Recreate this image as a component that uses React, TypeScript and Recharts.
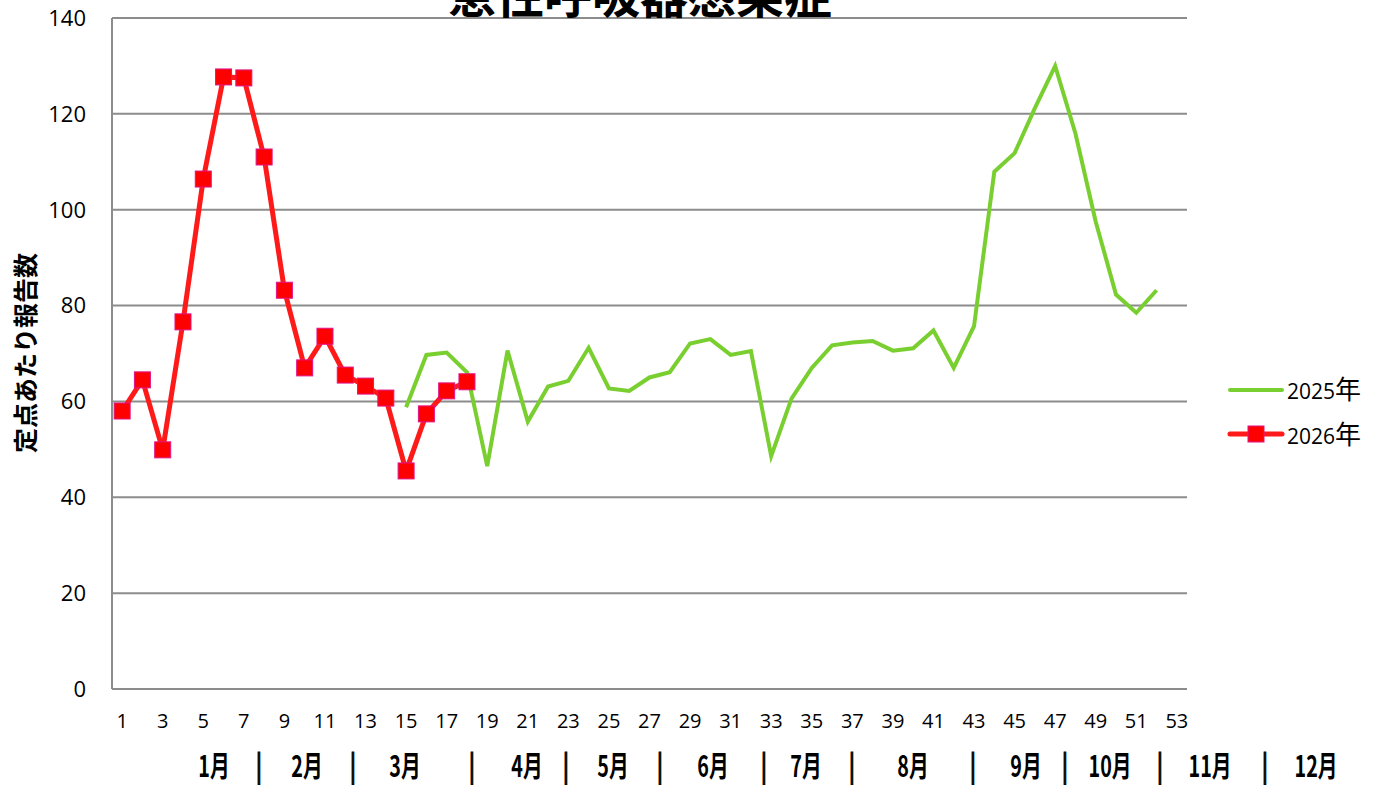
import React from "react";
import { LineChart, Line, XAxis, YAxis, CartesianGrid } from "recharts";

const weeks: number[] = Array.from({ length: 53 }, (_, i) => i + 1);

// 2025年: weeks 15..52
const weeks2025: number[] = [15,16,17,18,19,20,21,22,23,24,25,26,27,28,29,30,31,32,33,34,35,36,37,38,39,40,41,42,43,44,45,46,47,48,49,50,51,52];
const values2025: number[] = [58.8,69.7,70.2,66.1,46.5,70.6,55.8,63.1,64.3,71.2,62.7,62.2,65.0,66.1,72.1,73.0,69.7,70.5,48.6,60.6,67.0,71.7,72.3,72.6,70.6,71.1,74.8,67.0,75.7,107.9,111.8,121.2,130.0,115.9,97.5,82.3,78.5,83.2];

// 2026年: weeks 1..18
const weeks2026: number[] = [1,2,3,4,5,6,7,8,9,10,11,12,13,14,15,16,17,18];
const values2026: number[] = [58.0,64.5,49.9,76.6,106.4,127.7,127.5,111.0,83.2,67.0,73.6,65.5,63.2,60.7,45.5,57.4,62.2,64.1];

const yTicks: number[] = [0, 20, 40, 60, 80, 100, 120, 140];
const monthLabels: string[] = ["1月","|","2月","|","3月","|","4月","|","5月","|","6月","|","7月","|","8月","|","9月","|","10月","|","11月","|","12月"];
const monthLabelX: number[] = [214,259,307,353,405,472,527,566,613,660,713,764,806,852,913,973,1026,1065,1110,1160,1210,1265,1316];

const TITLE = "急性呼吸器感染症";
const Y_LABEL = "定点あたり報告数";
const SERIES_2025 = "2025";
const SERIES_2026 = "2026";
const YEAR_SUFFIX = "年";

const data = weeks.map((w) => {
  const i25 = weeks2025.indexOf(w);
  const i26 = weeks2026.indexOf(w);
  return {
    week: w,
    v2025: i25 >= 0 ? values2025[i25] : null,
    v2026: i26 >= 0 ? values2026[i26] : null,
  };
});

const GREEN = "#79cf2f";
const RED = "#ff1a1a";
const MARKER_STROKE = "#e0148a";
const GRID = "#8c8c8c";
const FONT = "'Open Sans', 'Noto Sans', sans-serif";
const CJK = "'Noto Sans CJK JP', sans-serif";

const SquareDot = (props: any) => {
  const { cx, cy } = props;
  if (cx == null || cy == null || props.value == null) return null;
  return <rect x={cx - 8} y={cy - 8} width={16} height={16} fill="#ff0000" stroke={MARKER_STROKE} strokeWidth={1} />;
};

export default function App() {
  return (
    <div style={{ position: "absolute", left: 0, top: 0, width: 1379, height: 785, background: "#fff", overflow: "hidden" }}>
      <LineChart
        width={1379}
        height={785}
        data={data}
        margin={{ top: 18, right: 192, bottom: 56, left: 12 }}
      >
        <CartesianGrid vertical={false} stroke={GRID} strokeWidth={2} />
        <XAxis
          dataKey="week"
          scale="band"
          interval={1}
          tickLine={false}
          tickSize={0}
          tickMargin={25}
          axisLine={{ stroke: GRID, strokeWidth: 2 }}
          tick={{ fontFamily: FONT, fontSize: 20, fill: "#000" }}
          height={40}
        />
        <YAxis
          domain={[0, 140]}
          ticks={yTicks}
          width={100}
          tickLine={false}
          tickSize={0}
          tickMargin={26}
          axisLine={{ stroke: GRID, strokeWidth: 2 }}
          tick={{ fontFamily: FONT, fontSize: 22, fill: "#000" }}
        />
        <Line
          type="linear"
          dataKey="v2025"
          name={SERIES_2025 + YEAR_SUFFIX}
          stroke={GREEN}
          strokeWidth={4}
          dot={false}
          activeDot={false}
          isAnimationActive={false}
        />
        <Line
          type="linear"
          dataKey="v2026"
          name={SERIES_2026 + YEAR_SUFFIX}
          stroke={RED}
          strokeWidth={5}
          dot={<SquareDot />}
          activeDot={false}
          isAnimationActive={false}
        />
      </LineChart>
      <svg width={1379} height={785} style={{ position: "absolute", left: 0, top: 0, pointerEvents: "none" }}>
        <text x={640} y={13} textAnchor="middle" fontFamily={CJK} fontWeight={700} fontSize={48} fill="#000">{TITLE}</text>
        <text
          transform="translate(34.5,353) rotate(-90)"
          textAnchor="middle"
          fontFamily={CJK}
          fontWeight={700}
          fontSize={25}
          fill="#000"
        >{Y_LABEL}</text>
        {monthLabels.map((m, i) => (
          <text
            key={i}
            transform={`translate(${monthLabelX[i]},777) scale(0.68,1)`}
            textAnchor="middle"
            fontFamily={CJK}
            fontWeight={700}
            fontSize={29}
            fill="#000"
            stroke={m === "|" ? "#000" : "none"}
            strokeWidth={m === "|" ? 1 : 0}
          >{m}</text>
        ))}
        {/* legend */}
        <g>
          <line x1={1230} y1={390} x2={1282} y2={390} stroke={GREEN} strokeWidth={4} strokeLinecap="round" />
          <text x={1287} y={399} fontFamily={FONT} fontSize={21} fill="#000">
            {SERIES_2025}<tspan fontFamily={CJK} fontSize={26}>{YEAR_SUFFIX}</tspan>
          </text>
          <line x1={1230} y1={434} x2={1282} y2={434} stroke={RED} strokeWidth={5} strokeLinecap="round" />
          <rect x={1248} y={426} width={16} height={16} fill="#ff0000" stroke={MARKER_STROKE} strokeWidth={1} />
          <text x={1287} y={444} fontFamily={FONT} fontSize={21} fill="#000">
            {SERIES_2026}<tspan fontFamily={CJK} fontSize={26}>{YEAR_SUFFIX}</tspan>
          </text>
        </g>
      </svg>
    </div>
  );
}
